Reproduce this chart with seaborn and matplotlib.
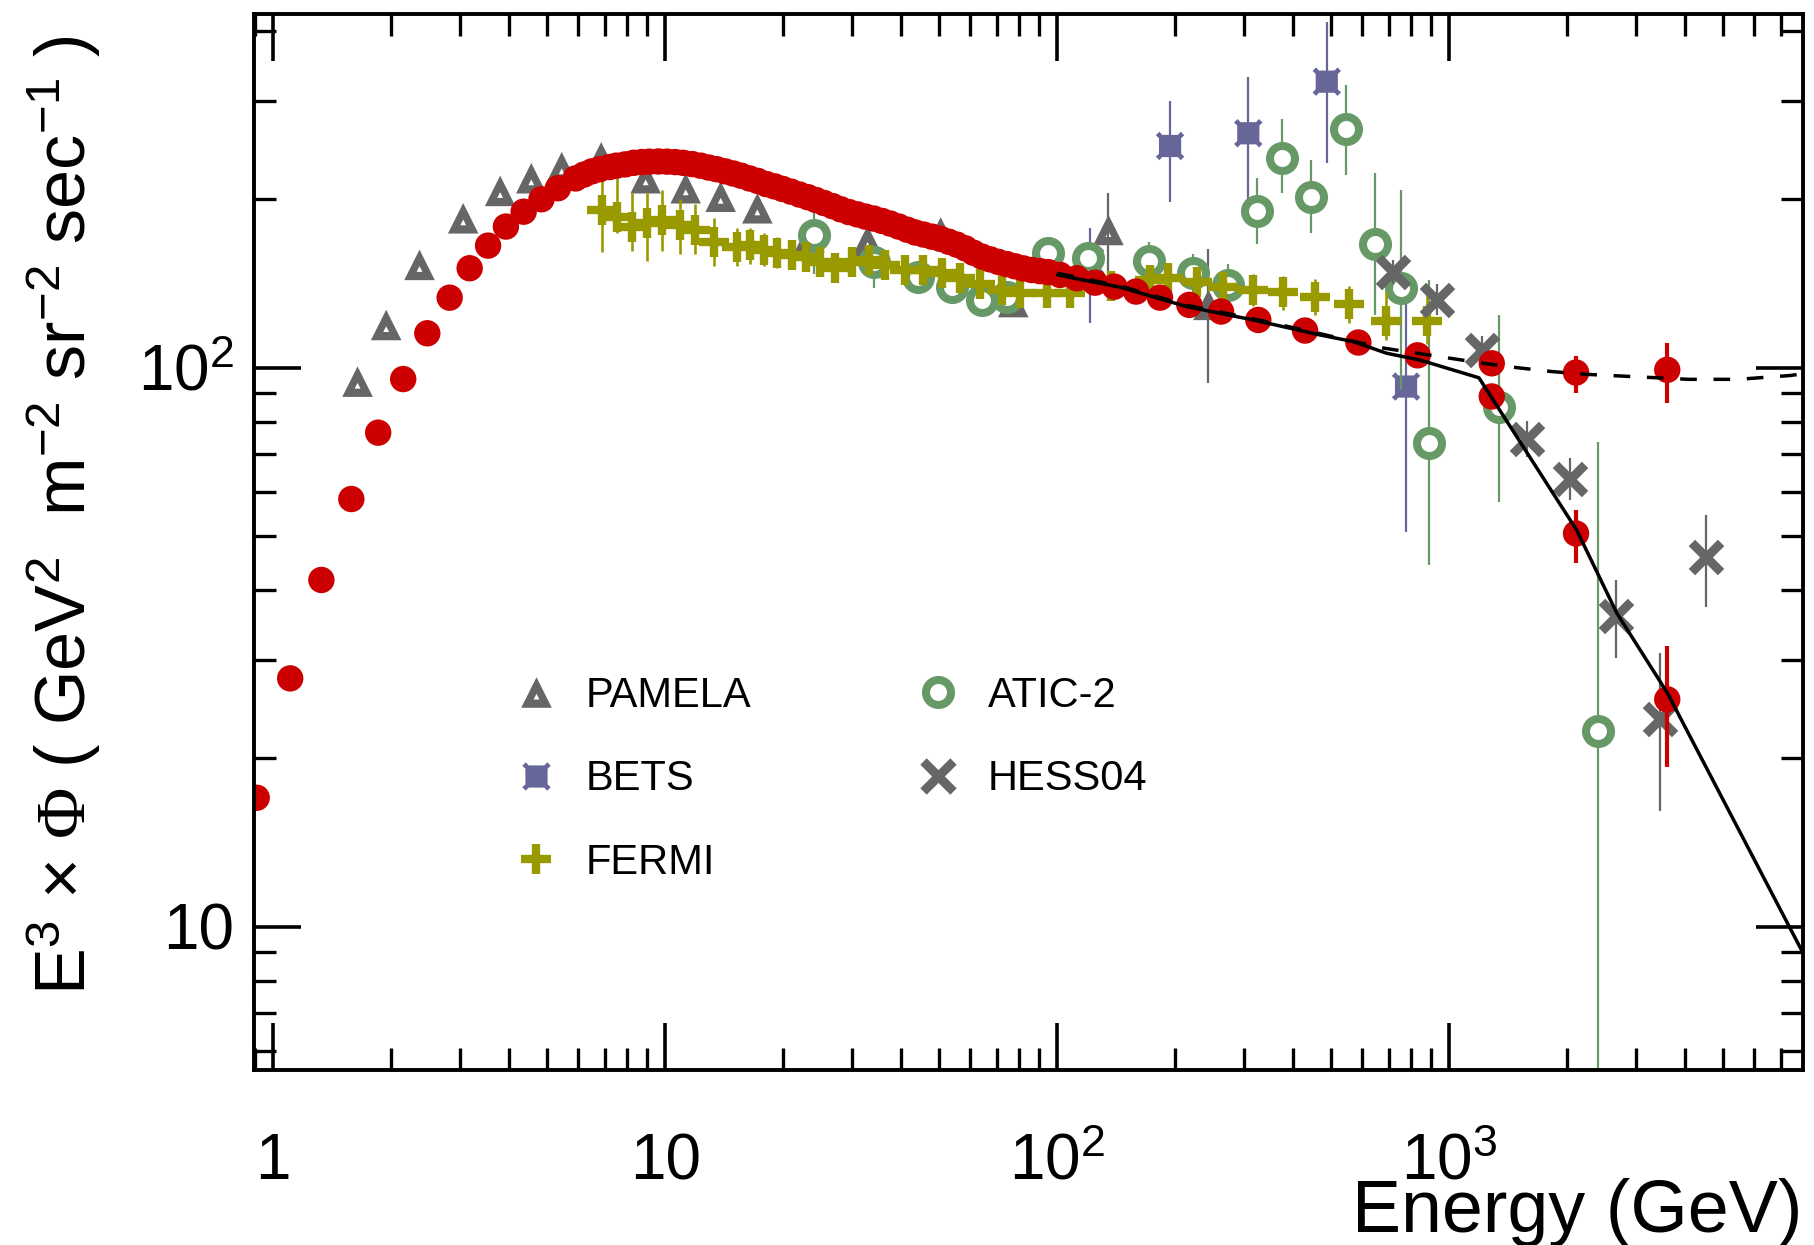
import numpy as np
import matplotlib
matplotlib.use("Agg")
import matplotlib.pyplot as plt
import seaborn as sns
from matplotlib.path import Path
from matplotlib.lines import Line2D
from matplotlib.ticker import FixedLocator, LogLocator, NullFormatter
from matplotlib.transforms import blended_transform_factory, ScaledTranslation

# ---------------- data: E^3 x flux (GeV^2 m^-2 sr^-2 s^-1) vs energy (GeV) ----------------
spec_e = [0.907, 1.104, 1.326, 1.581, 1.851, 2.144, 2.47, 2.817, 3.168, 3.53, 3.92, 4.35, 4.83, 5.32,
          5.9, 6.2, 6.5, 6.8, 7.2, 7.5, 7.9, 8.3, 8.7, 9.1, 9.6, 10.1, 10.6, 11.1, 11.7, 12.3, 12.9,
          13.5, 14.2, 14.9, 15.6, 16.4, 17.2, 18.1, 19.0, 19.9, 20.9, 22.0, 23.1, 24.2, 25.4, 26.7,
          28.0, 29.4, 30.9, 32.4, 34.0, 35.7, 37.5, 39.4, 41.4, 43.4, 45.6, 47.9, 50.3, 52.8, 55.4,
          58.2, 61.1, 64.2, 67.4, 70.7, 74.3, 78.0, 81.9, 86.0, 90.3, 94.8,
          101.6, 112.1, 124.8, 139.8, 158.8, 182.8, 217.1, 261.6, 325.6, 428.5, 586, 830]
spec_flux = [17.0, 27.8, 41.7, 58.2, 76.5, 95.4, 115.2, 133.4, 150.6, 165.3, 178.8, 190.1, 200.1, 209.4,
             218, 221.5, 224.5, 226.5, 228.5, 229.8, 231, 232.5, 233.2, 233.6, 233.8, 233.6, 233.2, 232.5,
             231.3, 229.8, 228, 226.5, 224.5, 222.5, 220.5, 218, 215.8, 213, 211, 208.8, 206.5, 204,
             201.8, 199.5, 197, 194.5, 192, 189.8, 188, 186.3, 184.8, 183, 181, 178.8, 176.5, 174.5,
             173, 171.5, 170, 168, 166, 163.5, 160.5, 158, 156.2, 154.6, 153.2, 151.8, 150.5, 149.5,
             148.8, 148.2,
             146.5, 144.5, 141.9, 139.6, 136.8, 133.4, 129.5, 126.0, 121.7, 116.5, 110.9, 105.2]

tev_e = [1283, 1283, 2105, 3597, 2105, 3597]
tev_flux = [101.8, 88.8, 98.0, 99.1, 50.5, 25.5]
tev_lo = [101.8, 88.8, 90.0, 86.6, 44.8, 19.3]
tev_hi = [101.8, 88.8, 104.9, 110.8, 55.7, 31.8]

pamela_e = [1.64, 1.94, 2.36, 3.05, 3.79, 4.55, 5.44, 6.86, 8.91, 11.27, 13.84, 17.17,
            23.3, 32.8, 50.4, 77.2, 135, 243]
pamela_flux = [94.4, 119.2, 152.7, 185.0, 207.1, 218.2, 228.3, 237.8, 218.2, 209.4, 202.2, 192.8,
               171.0, 168.6, 174.5, 131, 176.3, 129.5]
pamela_lo = [94.4, 119.2, 152.7, 185.0, 207.1, 218.2, 228.3, 237.8, 218.2, 209.4, 202.2, 192.8,
             171.0, 168.6, 174.5, 124, 147.6, 93.8]
pamela_hi = [94.4, 119.2, 152.7, 185.0, 207.1, 218.2, 228.3, 237.8, 218.2, 209.4, 202.2, 192.8,
             171.0, 168.6, 174.5, 138, 205.1, 162.9]

bets_e = [121.2, 193.9, 307, 486.8, 775.6]
bets_flux = [154.8, 249.2, 262.6, 324.8, 92.5]
bets_lo = [120.1, 198.2, 192.8, 232.2, 50.9]
bets_hi = [177.6, 300, 331.6, 416, 131.2]

fermi_e = [6.88, 7.52, 8.21, 8.97, 9.79, 10.9, 11.9, 13.3, 15.2, 16.4, 17.8, 19.3, 21.0, 22.9,
           24.8, 27.1, 29.9, 33.0, 36.3, 40.9, 45.5, 50.7, 56.5, 63.5, 72.1, 80.3, 94, 108, 137,
           172, 192, 227, 265, 316, 377, 454, 556, 690, 879]
fermi_flux = [191.5, 186.3, 178.8, 181.5, 183.8, 180, 176.6, 168.1, 164.6, 165.7, 162.4, 160.2, 159,
              158, 154.8, 150.6, 154.8, 155.8, 152.7, 149.5, 149.5, 147.5, 144.5, 141.4, 137.7, 136.0,
              136, 136, 140, 143.5, 144.5, 142.5, 139.6, 137.7, 136.4, 134, 130, 121.3, 121.3]
fermi_lo = [161, 174, 162, 155, 162, 160, 160, 152, 152, 153, 152, 151, 150, 150, 147, 143, 147, 148,
            146, 143, 143, 141, 138, 135, 131, 130, 130, 130, 134, 136, 137, 134, 131, 129, 127, 124,
            120, 112, 110]
fermi_hi = [222, 222, 205, 205, 208, 200, 196, 185, 178, 178, 174, 171, 168, 167, 163, 158, 162, 163,
            160, 156, 156, 154, 151, 148, 144, 142, 142, 142, 147, 151, 152, 151, 148, 147, 146, 144,
            140, 137, 140]

atic_e = [23.9, 34.1, 44.2, 54.0, 64.3, 74.3, 94.9, 120, 171.4, 222.3, 273, 322.7, 373.7, 443.8,
          545, 646, 755, 889, 1336, 2399]
atic_flux = [173, 154.3, 145.5, 139.2, 132, 134, 160.2, 156.9, 155.2, 147.5, 140.6, 190.3, 237.4,
             202.3, 267, 166.3, 138.7, 73.2, 85.2, 22.4]
atic_lo = [147, 139, 136, 131, 125, 127, 150, 146, 143, 135, 128, 166.5, 205, 174, 221, 124, 91.2,
           44.4, 57.6, 3.0]
atic_hi = [189, 165, 155, 148, 140, 141, 171, 168, 168, 160, 153, 218.2, 278, 235, 320, 222.6,
           207.9, 143.5, 124.2, 73.7]

hess_e = [717.3, 928.6, 1209.6, 1581, 2033, 2663, 3447, 4510]
hess_flux = [148.2, 132.2, 107.6, 74.5, 63.2, 35.9, 23.5, 45.8]
hess_lo = [141, 124, 101, 69.3, 57.9, 30.2, 16.1, 37.3]
hess_hi = [156, 141, 114, 80.1, 68.8, 41.7, 30.9, 54.4]

# broken power-law fit (solid) and fit with extra hard component (dashed)
fit_e = [100, 144.5, 213.8, 316, 468, 569, 692, 841, 1190, 2113, 2673, 3597, 7900]
fit_flux = [146.5, 139.3, 128.6, 121.7, 114.4, 111.3, 106.1, 103.2, 95.9, 51.2, 36.4, 26.2, 9.1]
fit2_e = [100, 144.5, 213.8, 316, 468, 672, 1221, 1486, 1824, 2220, 4071, 5459, 7396, 7985]
fit2_flux = [147.5, 140, 129.3, 122.3, 115, 108.5, 101.8, 100, 98.4, 97.3, 95.3, 95.3, 96.8, 97.5]

legend_labels = ["PAMELA", "BETS", "FERMI", "ATIC-2", "HESS04"]

# ---------------- style ----------------
RED = "#cc0000"
GRAY = "#666666"
BETS_C = "#666699"
FERMI_C = "#999900"
ATIC_C = "#669966"

sns.set_theme(style="ticks")
plt.rcParams["font.family"] = ["Liberation Sans", "DejaVu Sans"]
plt.rcParams["mathtext.fontset"] = "custom"
plt.rcParams["mathtext.rm"] = "Liberation Sans"
plt.rcParams["mathtext.it"] = "Liberation Sans:italic"
plt.rcParams["mathtext.bf"] = "Liberation Sans:bold"
plt.rcParams["mathtext.sf"] = "Liberation Serif"
plt.rcParams["text.color"] = "black"
plt.rcParams["axes.edgecolor"] = "black"

# square with notched corner ears for BETS
bets_marker = Path([(-0.55, 0.78), (0.55, 0.78), (0.75, 1.0), (1.0, 0.75), (0.78, 0.55),
                    (0.78, -0.55), (1.0, -0.75), (0.75, -1.0), (0.55, -0.78), (-0.55, -0.78),
                    (-0.75, -1.0), (-1.0, -0.75), (-0.78, -0.55), (-0.78, 0.55), (-1.0, 0.75),
                    (-0.75, 1.0), (-0.55, 0.78)], closed=True)

# solid triangle with a small triangular hole near its centroid (PAMELA)
_k = 0.19
_cy = -1.0 / 3.0
tri_marker = Path(
    [(0, 1), (-1, -1), (1, -1), (0, 1),
     (0, _cy + _k * 4 / 3), (_k, _cy - _k * 2 / 3), (-_k, _cy - _k * 2 / 3), (0, _cy + _k * 4 / 3)],
    [Path.MOVETO, Path.LINETO, Path.LINETO, Path.CLOSEPOLY,
     Path.MOVETO, Path.LINETO, Path.LINETO, Path.CLOSEPOLY])

fig = plt.figure(figsize=(18.15, 12.45), dpi=100)
ax = fig.add_axes([0.1402, 0.1406, 0.8532, 0.8482])
ax.set_xscale("log")
ax.set_yscale("log")

# error bars
ax.vlines(pamela_e, pamela_lo, pamela_hi, color=GRAY, linewidth=1.6, zorder=1.9)
ax.vlines(bets_e, bets_lo, bets_hi, color=BETS_C, linewidth=1.6, zorder=2.9)
ax.vlines(atic_e, atic_lo, atic_hi, color=ATIC_C, linewidth=1.6, zorder=3.9)
ax.vlines(fermi_e, fermi_lo, fermi_hi, color=FERMI_C, linewidth=1.9, zorder=4.9)
ax.vlines(hess_e, hess_lo, hess_hi, color=GRAY, linewidth=1.6, zorder=5.9)
ax.vlines(tev_e, tev_lo, tev_hi, color=RED, linewidth=3.0, zorder=6.9)

# markers
sns.scatterplot(x=pamela_e, y=pamela_flux, marker=tri_marker, s=22 ** 2, color=GRAY,
                edgecolor="none", linewidth=0, zorder=2, ax=ax, legend=False)
sns.scatterplot(x=bets_e, y=bets_flux, marker=bets_marker, s=20.5 ** 2, color=BETS_C,
                edgecolor="none", linewidth=0, zorder=3, ax=ax, legend=False)
sns.scatterplot(x=atic_e, y=atic_flux, marker="o", s=18 ** 2, facecolor="white",
                edgecolor=ATIC_C, linewidth=5.8, zorder=4, ax=ax, legend=False)
sns.scatterplot(x=fermi_e, y=fermi_flux, marker="+", s=21 ** 2, color=FERMI_C,
                linewidth=6.0, zorder=5, ax=ax, legend=False)
sns.scatterplot(x=hess_e, y=hess_flux, marker="x", s=21 ** 2, color=GRAY,
                linewidth=6.5, zorder=6, ax=ax, legend=False)
sns.scatterplot(x=spec_e, y=spec_flux, marker="o", s=19 ** 2, color=RED,
                edgecolor="none", linewidth=0, zorder=7, ax=ax, legend=False)
sns.scatterplot(x=tev_e, y=tev_flux, marker="o", s=19 ** 2, color=RED,
                edgecolor="none", linewidth=0, zorder=7, ax=ax, legend=False)

# fit curves
sns.lineplot(x=fit_e, y=fit_flux, color="black", linewidth=2.5, sort=False, estimator=None,
             zorder=8, ax=ax, legend=False)
sns.lineplot(x=fit2_e, y=fit2_flux, color="black", linewidth=2.5, sort=False, estimator=None,
             linestyle=(0, (4.8, 4.8)), zorder=8, ax=ax, legend=False)

# axes limits, ticks, frame
ax.set_xlim(0.895, 7985)
ax.set_ylim(5.54, 429.3)
ax.xaxis.set_major_locator(FixedLocator([1, 10, 100, 1000]))
ax.yaxis.set_major_locator(FixedLocator([10, 100]))
ax.xaxis.set_minor_locator(LogLocator(base=10, subs=np.arange(2, 10), numticks=60))
ax.yaxis.set_minor_locator(LogLocator(base=10, subs=np.arange(2, 10), numticks=60))
ax.xaxis.set_minor_formatter(NullFormatter())
ax.yaxis.set_minor_formatter(NullFormatter())
ax.tick_params(which="both", direction="in", top=True, right=True, bottom=True, left=True,
               labelbottom=False, labelleft=False, color="black")
ax.tick_params(which="major", length=34, width=2.6)
ax.tick_params(which="minor", length=16, width=2.4)
for sp in ax.spines.values():
    sp.set_linewidth(2.8)
    sp.set_color("black")
    sp.set_zorder(10)

# tick labels
xlab_tr = blended_transform_factory(ax.transData, ax.transAxes)
for val, txt in zip([1, 10, 100, 1000], ["1", "10", r"$10^{2}$", r"$10^{3}$"]):
    ax.text(val, -0.1035, txt, transform=xlab_tr, ha="center", va="baseline", fontsize=46,
            clip_on=False)
ylab_tr = blended_transform_factory(ax.transAxes, ax.transData) + \
    ScaledTranslation(0, -0.23, fig.dpi_scale_trans)
for val, txt in zip([10, 100], ["10", r"$10^{2}$"]):
    ax.text(-0.0132, val, txt, transform=ylab_tr, ha="right", va="baseline", fontsize=46,
            clip_on=False)

# axis titles
fig.text(1803 / 1815, 1 - 1232 / 1245, "Energy (GeV)", ha="right", va="baseline", fontsize=53)
fig.text(103 / 1815, 0.586,
         r"E$^{3}$ $\times$ $\mathsf{\Phi}$ ( GeV$^{2}$  m$^{-2}$ sr$^{-2}$ sec$^{-1}$ )",
         rotation=90, ha="right", va="center", fontsize=50.5)

# legend
handles = [
    Line2D([], [], linestyle="none", marker=tri_marker, markersize=22, markerfacecolor=GRAY,
           markeredgewidth=0),
    Line2D([], [], linestyle="none", marker=bets_marker, markersize=20.5, markerfacecolor=BETS_C,
           markeredgewidth=0),
    Line2D([], [], linestyle="none", marker="+", markersize=21, markeredgecolor=FERMI_C,
           markeredgewidth=6.0),
    Line2D([], [], linestyle="none", marker="o", markersize=18, markerfacecolor="white",
           markeredgecolor=ATIC_C, markeredgewidth=5.8),
    Line2D([], [], linestyle="none", marker="x", markersize=21, markeredgecolor=GRAY,
           markeredgewidth=6.5),
]
ax.legend(handles, legend_labels, loc="upper left", bbox_to_anchor=(515 / 1815, 1 - 676 / 1245),
          bbox_transform=fig.transFigure, ncol=2, frameon=False, fontsize=30, handlelength=1.0,
          handletextpad=0.7, columnspacing=3.97, labelspacing=1.04, borderpad=0, borderaxespad=0,
          numpoints=1)

fig.savefig("out.png", dpi=100, facecolor="white")
